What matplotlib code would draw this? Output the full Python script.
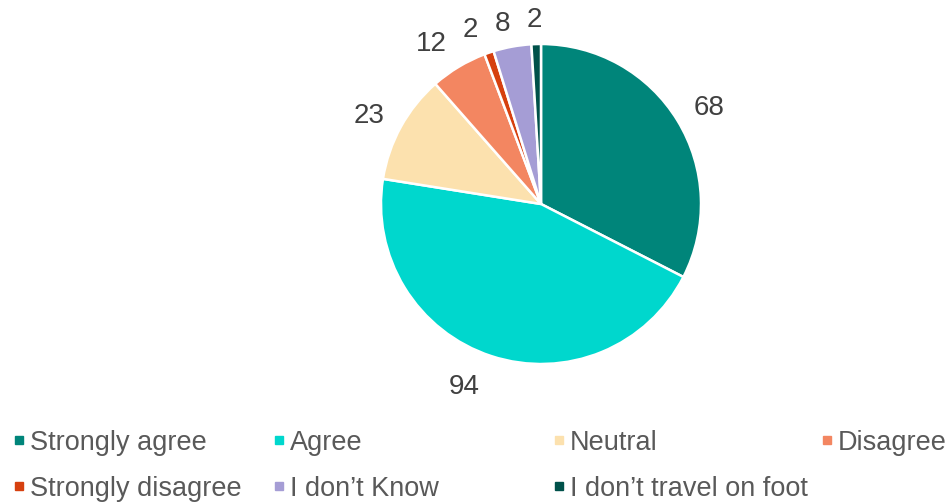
import numpy as np
import matplotlib.pyplot as plt
from matplotlib.patches import Rectangle

plt.rcParams['font.family'] = ['Liberation Sans', 'DejaVu Sans']

categories = ["Strongly agree", "Agree", "Neutral", "Disagree",
              "Strongly disagree", "I don\u2019t Know", "I don\u2019t travel on foot"]
counts = [68, 94, 23, 12, 2, 8, 2]
colors = ["#00857A", "#00D7CD", "#FCE1AE", "#F38661",
          "#D6400F", "#A59DD5", "#00514A"]

W, H = 953, 504
fig = plt.figure(figsize=(W / 100, H / 100), dpi=100)

# pie axes: centre (541, 204) px, radius 158 px
R = 158
box = 400
cx, cy = 541, 204
ax = fig.add_axes([(cx - box / 2) / W, 1 - (cy + box / 2) / H, box / W, box / H])
L = box / 2 / R
ax.set_xlim(-L, L)
ax.set_ylim(-L, L)
ax.set_aspect('equal')
ax.axis('off')

wedges, _ = ax.pie(counts, colors=colors, startangle=90, counterclock=False,
                   radius=1, wedgeprops=dict(edgecolor='white', linewidth=1.8))

# label placement tweaks (radius, angle nudge in degrees)
label_r = [1.22, 1.223, 1.218, 1.23, 1.194, 1.168, 1.171]
label_da = [-0.8, -4.9, 0.9, 3.0, 2.9, 1.6, 0.3]
for w, v, r, da in zip(wedges, counts, label_r, label_da):
    th = np.deg2rad((w.theta1 + w.theta2) / 2 + da)
    ax.text(r * np.cos(th), r * np.sin(th), str(v), ha='center', va='center_baseline',
            fontsize=20, color='#404040')

# legend, laid out like the original (4 columns, 2 rows)
col_x = [15, 275, 555, 823]
row_y = [440, 486]
for i, (lab, c) in enumerate(zip(categories, colors)):
    x = col_x[i % 4]
    y = row_y[i // 4]
    fig.patches.append(Rectangle((x / W, 1 - (y + 4) / H), 8 / W, 8 / H,
                                 transform=fig.transFigure, color=c))
    fig.text((x + 15) / W, 1 - y / H, lab, ha='left', va='center_baseline',
             fontsize=19.5, color='#595959')

fig.savefig("out.png", dpi=100)
